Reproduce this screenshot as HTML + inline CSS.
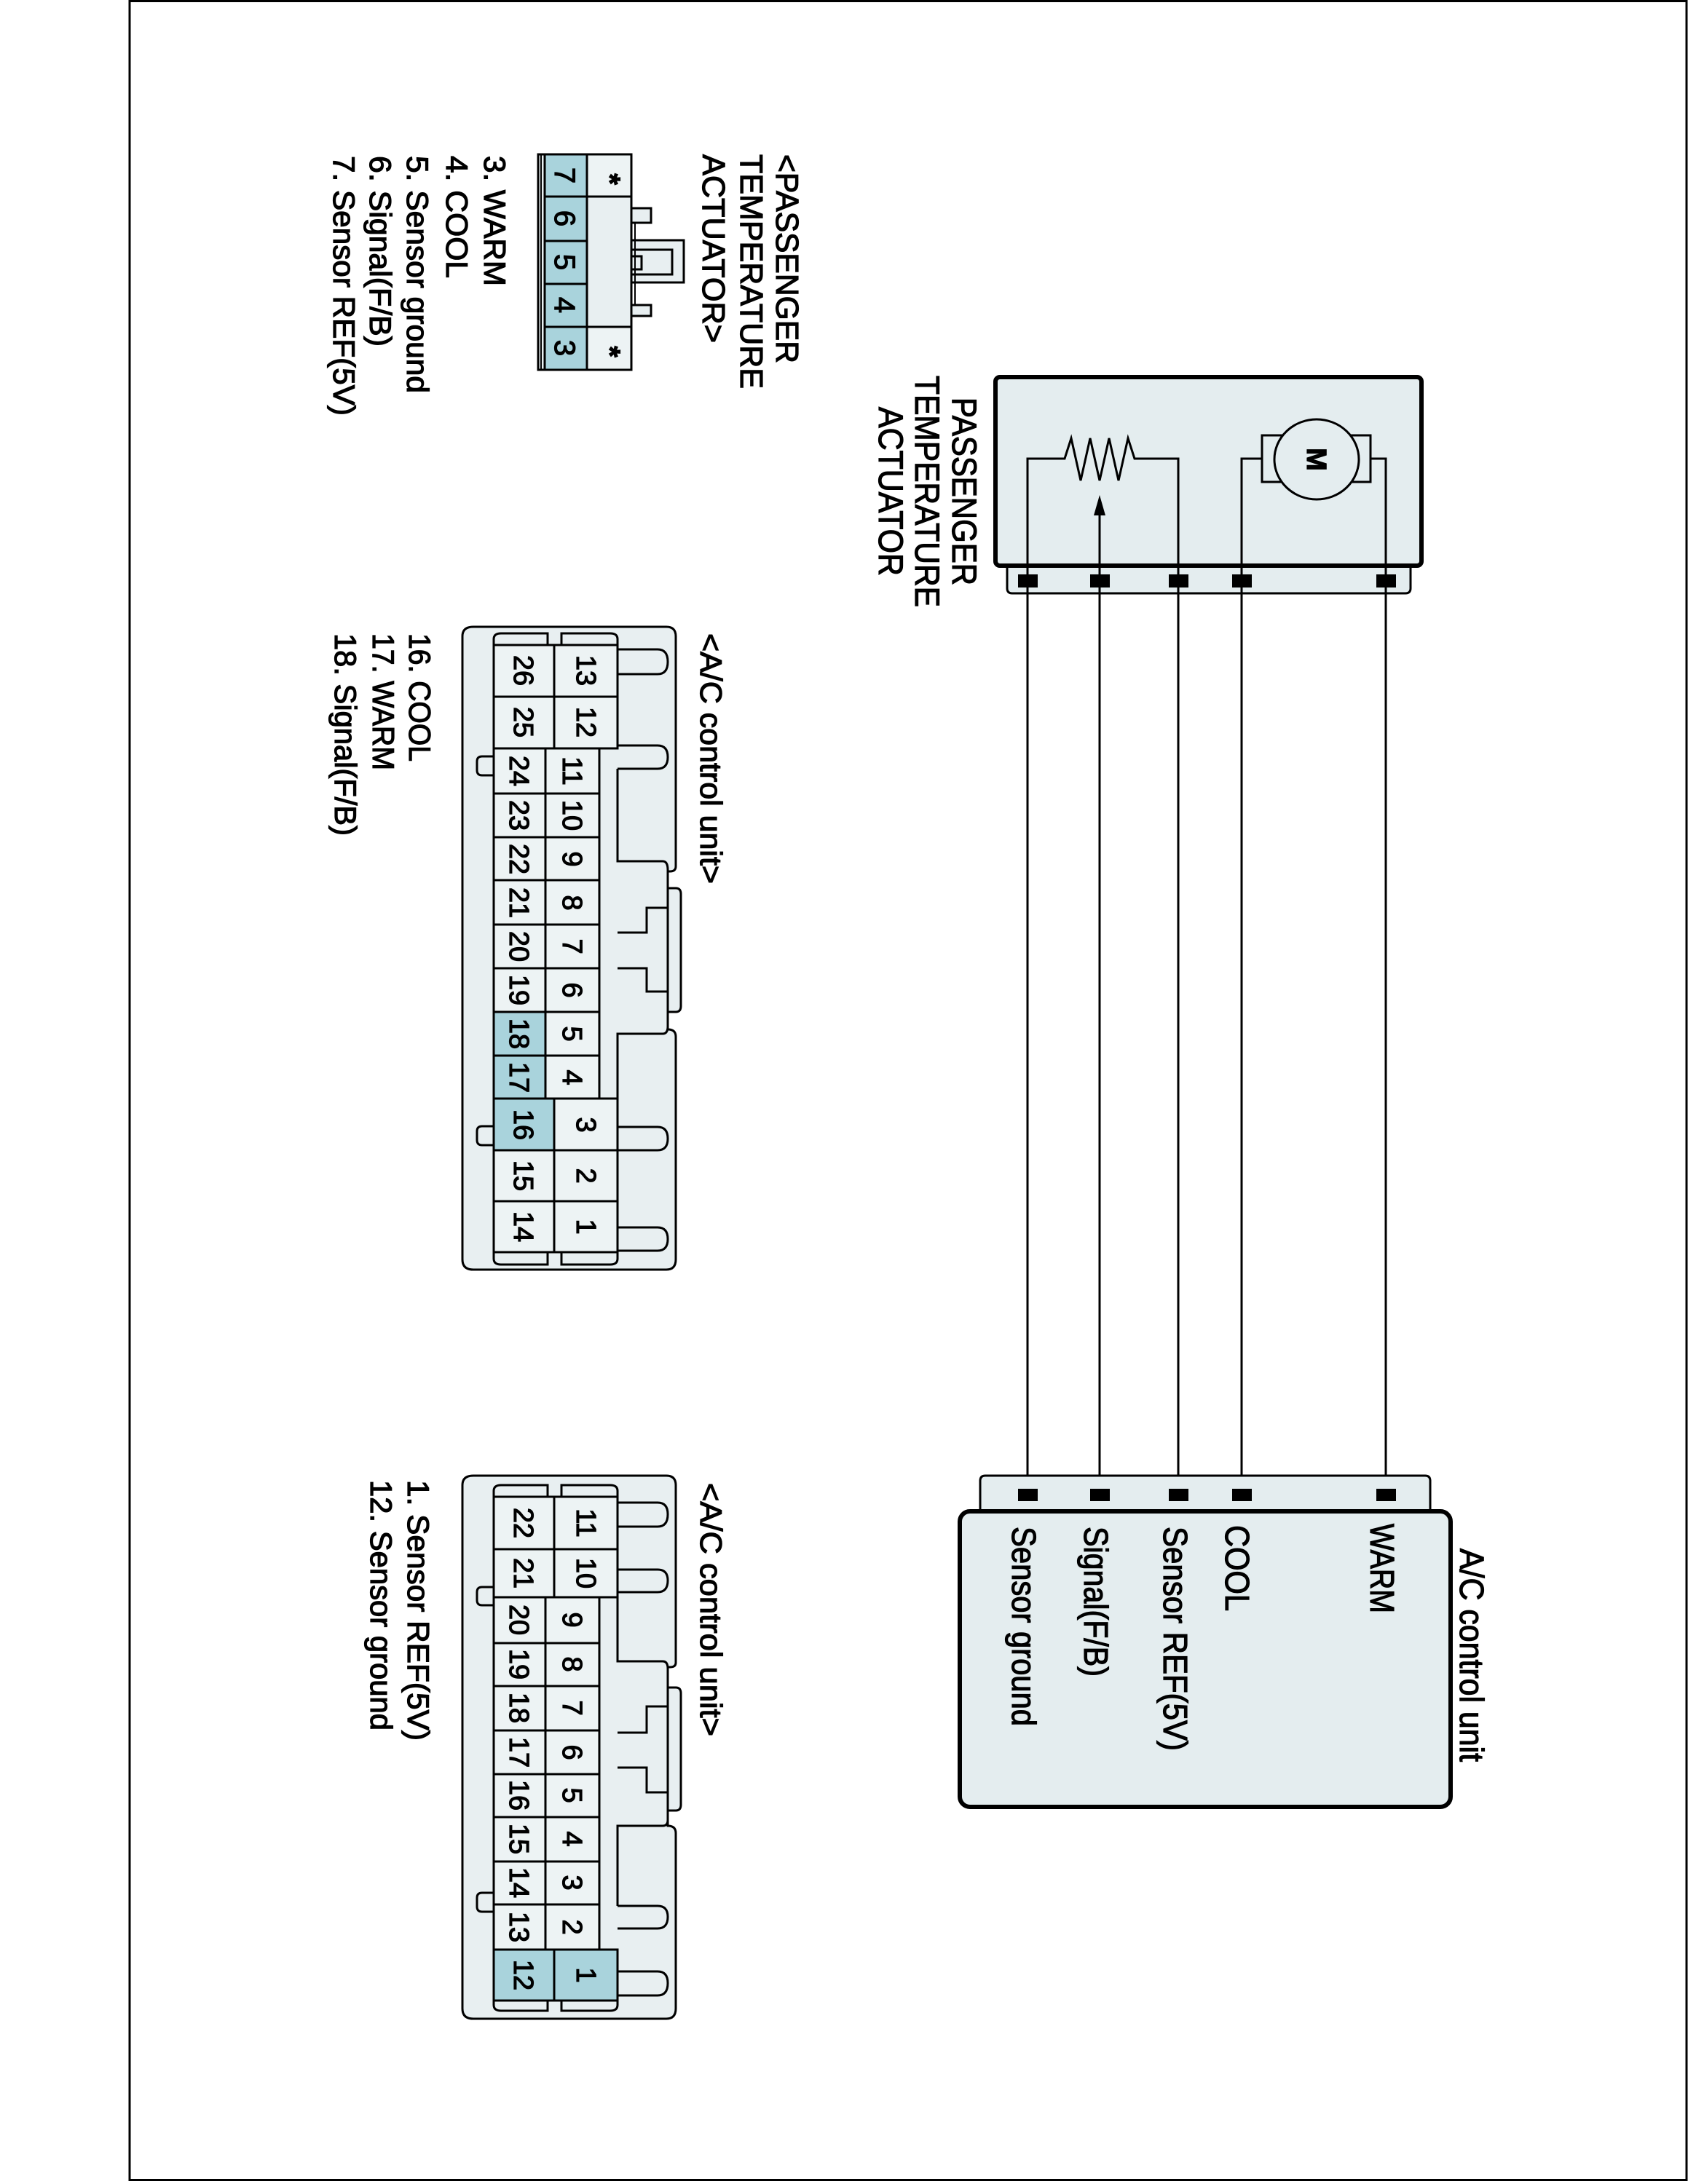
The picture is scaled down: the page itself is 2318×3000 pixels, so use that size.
<!DOCTYPE html>
<html><head><meta charset="utf-8"><style>
html,body{margin:0;padding:0;background:#fff}
svg{display:block}
text{font-family:"Liberation Sans",Arial,sans-serif;fill:#000;stroke:#000;stroke-width:1.2}
</style></head><body>
<svg width="2318" height="3000" viewBox="0 0 2318 3000" xmlns="http://www.w3.org/2000/svg">
<rect x="0" y="0" width="2318" height="3000" fill="#fff"/>
<rect x="178" y="1.5" width="2138" height="2993" fill="none" stroke="#000" stroke-width="3"/>

<g font-size="44">
<text transform="translate(1066,212) rotate(90)" textLength="287" lengthAdjust="spacingAndGlyphs">&lt;PASSENGER</text>
<text transform="translate(1017,212) rotate(90)" textLength="322" lengthAdjust="spacingAndGlyphs">TEMPERATURE</text>
<text transform="translate(965,212) rotate(90)" textLength="259" lengthAdjust="spacingAndGlyphs">ACTUATOR&gt;</text>
</g>
<g font-size="42">
<text transform="translate(665,214) rotate(90)" textLength="179" lengthAdjust="spacingAndGlyphs">3. WARM</text>
<text transform="translate(613,214) rotate(90)" textLength="168" lengthAdjust="spacingAndGlyphs">4. COOL</text>
<text transform="translate(559,214) rotate(90)" textLength="326" lengthAdjust="spacingAndGlyphs">5. Sensor ground</text>
<text transform="translate(508,214) rotate(90)" textLength="262" lengthAdjust="spacingAndGlyphs">6. Signal(F/B)</text>
<text transform="translate(458,214) rotate(90)" textLength="357" lengthAdjust="spacingAndGlyphs">7. Sensor REF(5V)</text>
</g>
<g stroke="#000" stroke-width="3">
<path d="M867,286 H894 V306 H867" fill="#e8eff1"/>
<path d="M867,419 H894 V434 H867" fill="#e8eff1"/>
<rect x="867" y="330" width="72" height="58" fill="#e8eff1"/>
<rect x="867" y="343" width="56" height="34" fill="#e8eff1"/>
<rect x="867" y="352" width="14" height="18" fill="#e8eff1"/>
<line x1="872" y1="306" x2="872" y2="419" stroke-width="2"/>
<rect x="739" y="212" width="128" height="296" fill="#e8eff1"/>
<line x1="743" y1="212" x2="743" y2="508" stroke-width="2"/>
<rect x="748" y="212" width="58" height="58" fill="#a9d3dc"/>
<rect x="748" y="270" width="58" height="61" fill="#a9d3dc"/>
<rect x="748" y="331" width="58" height="59" fill="#a9d3dc"/>
<rect x="748" y="390" width="58" height="59" fill="#a9d3dc"/>
<rect x="748" y="449" width="58" height="59" fill="#a9d3dc"/>
<rect x="806" y="212" width="61" height="58" fill="#edf3f4"/>
<rect x="806" y="449" width="61" height="59" fill="#edf3f4"/>
</g>
<g font-size="40" text-anchor="middle">
<text transform="translate(762,241) rotate(90)">7</text>
<text transform="translate(762,300) rotate(90)">6</text>
<text transform="translate(762,360) rotate(90)">5</text>
<text transform="translate(762,419) rotate(90)">4</text>
<text transform="translate(762,478) rotate(90)">3</text>
<text transform="translate(824,246) rotate(90)" font-weight="bold">*</text>
<text transform="translate(824,483) rotate(90)" font-weight="bold">*</text>
</g>

<g font-size="42">
<text transform="translate(962,870) rotate(90)" textLength="344" lengthAdjust="spacingAndGlyphs">&lt;A/C control unit&gt;</text>
<text transform="translate(562,870) rotate(90)" textLength="176" lengthAdjust="spacingAndGlyphs">16. COOL</text>
<text transform="translate(512,870) rotate(90)" textLength="188" lengthAdjust="spacingAndGlyphs">17. WARM</text>
<text transform="translate(460,870) rotate(90)" textLength="278" lengthAdjust="spacingAndGlyphs">18. Signal(F/B)</text>
</g>
<g stroke="#000" stroke-width="3" fill="#e8eff1">
<path d="M650,861 H915 Q928,861 928,874 V1190 Q928,1197 920,1197 H917 V1220 H928 Q935,1220 935,1228 V1382 Q935,1390 928,1390 H917 V1414 Q928,1414 928,1424 V1730 Q928,1744 915,1744 H650 Q635,1744 635,1730 V874 Q635,861 650,861 Z"/>
<path d="M848,1056 V1183 H910 Q917,1183 917,1195 V1410 Q917,1420 910,1420 H848 V1509" fill="none"/>
<path d="M848,1281 H888 V1247 H917 M848,1330 H888 V1362 H917" fill="none"/>
<path d="M848,892 H903 Q917,892 917,909 Q917,926 903,926 H848"/>
<path d="M848,1024 H903 Q917,1024 917,1040 Q917,1056 903,1056 H848"/>
<path d="M848,1548 H903 Q917,1548 917,1564 Q917,1580 903,1580 H848"/>
<path d="M848,1686 H903 Q917,1686 917,1702 Q917,1718 903,1718 H848"/>
<path d="M678,1039 H662 Q655,1039 655,1046 V1058 Q655,1065 662,1065 H678"/>
<path d="M678,1547 H662 Q655,1547 655,1554 V1566 Q655,1573 662,1573 H678"/>
<path d="M678,890 V878 Q678,870 688,870 H752 V890"/>
<path d="M771,890 V870 H838 Q848,870 848,878 V890"/>
<path d="M678,1716 V1729 Q678,1737 688,1737 H752 V1716"/>
<path d="M771,1716 V1737 H838 Q848,1737 848,1729 V1716"/>
</g>
<g stroke="#000" stroke-width="3" fill="#edf3f4">
<rect x="678" y="886" width="83" height="71"/><rect x="761" y="886" width="87" height="71"/>
<rect x="678" y="957" width="83" height="71"/><rect x="761" y="957" width="87" height="71"/>
<rect x="678" y="1028" width="71" height="62"/><rect x="749" y="1028" width="74" height="62"/>
<rect x="678" y="1090" width="71" height="60"/><rect x="749" y="1090" width="74" height="60"/>
<rect x="678" y="1150" width="71" height="59"/><rect x="749" y="1150" width="74" height="59"/>
<rect x="678" y="1209" width="71" height="61"/><rect x="749" y="1209" width="74" height="61"/>
<rect x="678" y="1270" width="71" height="60"/><rect x="749" y="1270" width="74" height="60"/>
<rect x="678" y="1330" width="71" height="60"/><rect x="749" y="1330" width="74" height="60"/>
<rect x="678" y="1390" width="71" height="60" fill="#a9d3dc"/><rect x="749" y="1390" width="74" height="60"/>
<rect x="678" y="1450" width="71" height="59" fill="#a9d3dc"/><rect x="749" y="1450" width="74" height="59"/>
<rect x="678" y="1509" width="83" height="71" fill="#a9d3dc"/><rect x="761" y="1509" width="87" height="71"/>
<rect x="678" y="1580" width="83" height="70"/><rect x="761" y="1580" width="87" height="70"/>
<rect x="678" y="1650" width="83" height="70"/><rect x="761" y="1650" width="87" height="70"/>
</g>
<g font-size="38" text-anchor="middle" style="stroke-width:1">
<text transform="translate(706,921) rotate(90)">26</text><text transform="translate(792,921) rotate(90)">13</text>
<text transform="translate(706,992) rotate(90)">25</text><text transform="translate(792,992) rotate(90)">12</text>
<text transform="translate(700,1059) rotate(90)">24</text><text transform="translate(773,1059) rotate(90)">11</text>
<text transform="translate(700,1120) rotate(90)">23</text><text transform="translate(773,1120) rotate(90)">10</text>
<text transform="translate(700,1180) rotate(90)">22</text><text transform="translate(773,1180) rotate(90)">9</text>
<text transform="translate(700,1240) rotate(90)">21</text><text transform="translate(773,1240) rotate(90)">8</text>
<text transform="translate(700,1300) rotate(90)">20</text><text transform="translate(773,1300) rotate(90)">7</text>
<text transform="translate(700,1360) rotate(90)">19</text><text transform="translate(773,1360) rotate(90)">6</text>
<text transform="translate(700,1420) rotate(90)">18</text><text transform="translate(773,1420) rotate(90)">5</text>
<text transform="translate(700,1480) rotate(90)">17</text><text transform="translate(773,1480) rotate(90)">4</text>
<text transform="translate(706,1545) rotate(90)">16</text><text transform="translate(792,1545) rotate(90)">3</text>
<text transform="translate(706,1615) rotate(90)">15</text><text transform="translate(792,1615) rotate(90)">2</text>
<text transform="translate(706,1685) rotate(90)">14</text><text transform="translate(792,1685) rotate(90)">1</text>
</g>

<g font-size="42">
<text transform="translate(962,2037) rotate(90)" textLength="348" lengthAdjust="spacingAndGlyphs">&lt;A/C control unit&gt;</text>
<text transform="translate(560,2033) rotate(90)" textLength="358" lengthAdjust="spacingAndGlyphs">1. Sensor REF(5V)</text>
<text transform="translate(509,2033) rotate(90)" textLength="344" lengthAdjust="spacingAndGlyphs">12. Sensor ground</text>
</g>
<g stroke="#000" stroke-width="3" fill="#e8eff1">
<path d="M650,2027 H915 Q928,2027 928,2040 V2284 Q928,2290 920,2290 H917 V2318 H928 Q935,2318 935,2326 V2479 Q935,2487 928,2487 H917 V2508 Q928,2508 928,2518 V2759 Q928,2773 915,2773 H650 Q635,2773 635,2759 V2040 Q635,2027 650,2027 Z"/>
<path d="M848,2187 V2282 H910 Q917,2282 917,2292 V2500 Q917,2508 910,2508 H848 V2618" fill="none"/>
<path d="M848,2380 H888 V2344 H917 M848,2428 H888 V2462 H917" fill="none"/>
<path d="M848,2064 H903 Q917,2064 917,2080 Q917,2097 903,2097 H848"/>
<path d="M848,2156 H903 Q917,2156 917,2171 Q917,2187 903,2187 H848"/>
<path d="M848,2618 H903 Q917,2618 917,2633 Q917,2649 903,2649 H848"/>
<path d="M848,2708 H903 Q917,2708 917,2724 Q917,2741 903,2741 H848"/>
<path d="M678,2180 H662 Q655,2180 655,2187 V2198 Q655,2205 662,2205 H678"/>
<path d="M678,2600 H662 Q655,2600 655,2607 V2619 Q655,2626 662,2626 H678"/>
<path d="M678,2060 V2048 Q678,2040 688,2040 H752 V2060"/>
<path d="M771,2060 V2040 H838 Q848,2040 848,2048 V2060"/>
<path d="M678,2744 V2754 Q678,2762 688,2762 H752 V2744"/>
<path d="M771,2744 V2762 H838 Q848,2762 848,2754 V2744"/>
</g>
<g stroke="#000" stroke-width="3" fill="#edf3f4">
<rect x="678" y="2056" width="83" height="72"/><rect x="761" y="2056" width="87" height="72"/>
<rect x="678" y="2128" width="83" height="66"/><rect x="761" y="2128" width="87" height="66"/>
<rect x="678" y="2194" width="71" height="63"/><rect x="749" y="2194" width="74" height="63"/>
<rect x="678" y="2257" width="71" height="59"/><rect x="749" y="2257" width="74" height="59"/>
<rect x="678" y="2316" width="71" height="61"/><rect x="749" y="2316" width="74" height="61"/>
<rect x="678" y="2377" width="71" height="60"/><rect x="749" y="2377" width="74" height="60"/>
<rect x="678" y="2437" width="71" height="59"/><rect x="749" y="2437" width="74" height="59"/>
<rect x="678" y="2496" width="71" height="61"/><rect x="749" y="2496" width="74" height="61"/>
<rect x="678" y="2557" width="71" height="59"/><rect x="749" y="2557" width="74" height="59"/>
<rect x="678" y="2616" width="71" height="62"/><rect x="749" y="2616" width="74" height="62"/>
<rect x="678" y="2678" width="83" height="70" fill="#a9d3dc"/><rect x="761" y="2678" width="87" height="70" fill="#a9d3dc"/>
</g>
<g font-size="38" text-anchor="middle" style="stroke-width:1">
<text transform="translate(706,2092) rotate(90)">22</text><text transform="translate(792,2092) rotate(90)">11</text>
<text transform="translate(706,2161) rotate(90)">21</text><text transform="translate(792,2161) rotate(90)">10</text>
<text transform="translate(700,2225) rotate(90)">20</text><text transform="translate(773,2225) rotate(90)">9</text>
<text transform="translate(700,2286) rotate(90)">19</text><text transform="translate(773,2286) rotate(90)">8</text>
<text transform="translate(700,2346) rotate(90)">18</text><text transform="translate(773,2346) rotate(90)">7</text>
<text transform="translate(700,2407) rotate(90)">17</text><text transform="translate(773,2407) rotate(90)">6</text>
<text transform="translate(700,2466) rotate(90)">16</text><text transform="translate(773,2466) rotate(90)">5</text>
<text transform="translate(700,2526) rotate(90)">15</text><text transform="translate(773,2526) rotate(90)">4</text>
<text transform="translate(700,2586) rotate(90)">14</text><text transform="translate(773,2586) rotate(90)">3</text>
<text transform="translate(700,2647) rotate(90)">13</text><text transform="translate(773,2647) rotate(90)">2</text>
<text transform="translate(706,2713) rotate(90)">12</text><text transform="translate(792,2713) rotate(90)">1</text>
</g>

<g font-size="47" text-anchor="middle">
<text transform="translate(1308,675) rotate(90)" textLength="258" lengthAdjust="spacingAndGlyphs">PASSENGER</text>
<text transform="translate(1257,675) rotate(90)" textLength="318" lengthAdjust="spacingAndGlyphs">TEMPERATURE</text>
<text transform="translate(1207,675) rotate(90)" textLength="232" lengthAdjust="spacingAndGlyphs">ACTUATOR</text>
</g>
<path d="M1383,777 V808 Q1383,815 1390,815 H1930 Q1937,815 1937,808 V777" fill="#e4edef" stroke="#000" stroke-width="3"/>
<rect x="1367" y="518" width="585" height="259" rx="6" fill="#e4edef" stroke="#000" stroke-width="6"/>
<g stroke="#000" stroke-width="3" fill="none">
<line x1="1411" y1="777" x2="1411" y2="2050"/>
<line x1="1510" y1="777" x2="1510" y2="2050"/>
<line x1="1618" y1="777" x2="1618" y2="2050"/>
<line x1="1705" y1="777" x2="1705" y2="2050"/>
<line x1="1903" y1="777" x2="1903" y2="2050"/>
<path d="M1411,777 V630 H1462 L1471,602 L1484,660 L1497,602 L1510,660 L1523,602 L1536,660 L1549,602 L1558,630 H1618 V777"/>
<line x1="1510" y1="777" x2="1510" y2="704"/>
<path d="M1705,777 V630 H1733 M1882,630 H1903 V777"/>
<rect x="1733" y="598" width="149" height="64" fill="#e4edef"/>
<ellipse cx="1808" cy="631" rx="58" ry="55" fill="#e4edef"/>
</g>
<path d="M1510,680 L1502,708 L1518,708 Z" fill="#000"/>
<text transform="translate(1795,631) rotate(90)" font-size="38" text-anchor="middle" font-weight="bold">M</text>
<g fill="#000">
<rect x="1398" y="789" width="27" height="18"/><rect x="1497" y="789" width="27" height="18"/>
<rect x="1605" y="789" width="27" height="18"/><rect x="1692" y="789" width="27" height="18"/>
<rect x="1890" y="789" width="27" height="18"/>
</g>

<path d="M1346,2076 V2034 Q1346,2027 1353,2027 H1957 Q1964,2027 1964,2034 V2076" fill="#e4edef" stroke="#000" stroke-width="3"/>
<rect x="1318" y="2076" width="674" height="406" rx="14" fill="#e4edef" stroke="#000" stroke-width="6"/>
<g fill="#000">
<rect x="1398" y="2045" width="27" height="17"/><rect x="1497" y="2045" width="27" height="17"/>
<rect x="1605" y="2045" width="27" height="17"/><rect x="1692" y="2045" width="27" height="17"/>
<rect x="1890" y="2045" width="27" height="17"/>
</g>
<g font-size="46">
<text transform="translate(1390,2097) rotate(90)" textLength="274" lengthAdjust="spacingAndGlyphs">Sensor ground</text>
<text transform="translate(1489,2097) rotate(90)" textLength="206" lengthAdjust="spacingAndGlyphs">Signal(F/B)</text>
<text transform="translate(1598,2097) rotate(90)" textLength="308" lengthAdjust="spacingAndGlyphs">Sensor REF(5V)</text>
<text transform="translate(1683,2095) rotate(90)" textLength="118" lengthAdjust="spacingAndGlyphs">COOL</text>
<text transform="translate(1882,2093) rotate(90)" textLength="123" lengthAdjust="spacingAndGlyphs">WARM</text>
<text transform="translate(2005,2127) rotate(90)" textLength="293" lengthAdjust="spacingAndGlyphs">A/C control unit</text>
</g>
</svg>
</body></html>
